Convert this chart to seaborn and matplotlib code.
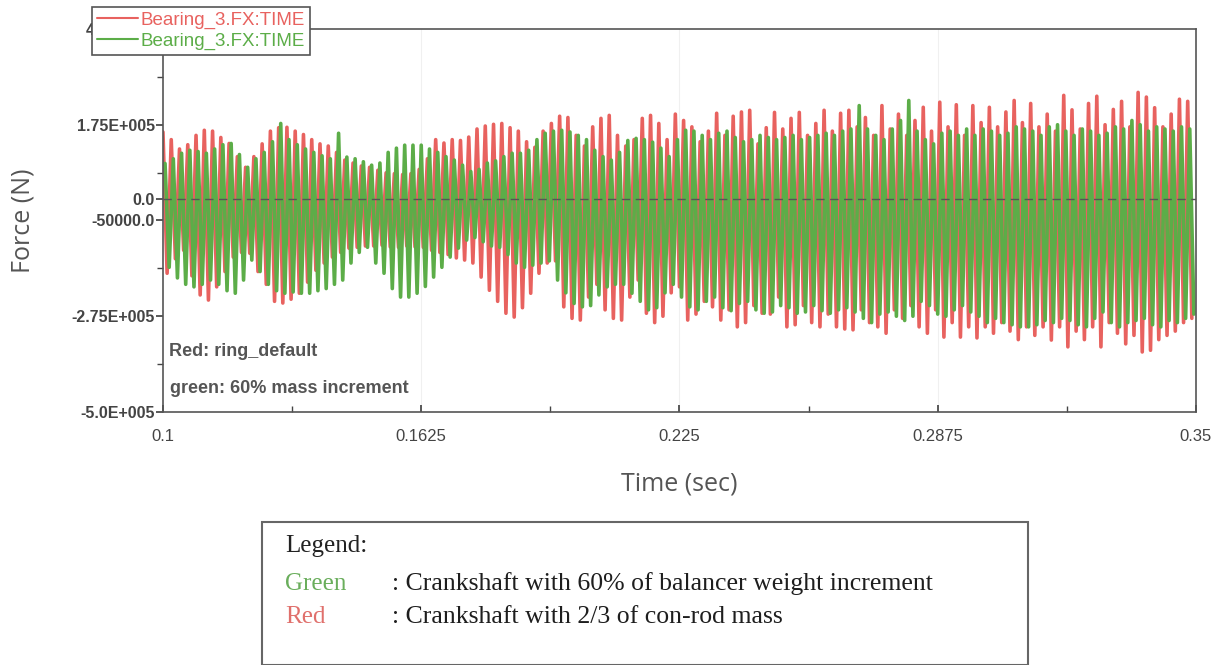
import numpy as np
import matplotlib
matplotlib.use("Agg")
import matplotlib.pyplot as plt
import seaborn as sns
from matplotlib.lines import Line2D
from matplotlib.patches import Rectangle

# ============================================================
# DATA  (force envelope per cycle, kN)
# ============================================================

T_START = 0.1
CYCLE = 0.002          # one peak + one trough per cycle
N_CYCLES = 125

red_upper = [
    158, 140, 118, 128, 150, 162, 160, 145, 131, 100, 75, 100, 130, 160, 168, 169, 160, 152, 140, 130, 125, 110, 92, 85, 78,
    75, 68, 62, 60, 58, 60, 70, 95, 140, 132, 140, 138, 146, 165, 172, 176, 178, 168, 160, 135, 122, 160, 178, 195, 192,
    150, 125, 170, 190, 197, 150, 125, 140, 190, 197, 178, 140, 200, 185, 170, 135, 160, 202, 150, 195, 205, 209, 130, 168, 204,
    165, 190, 204, 150, 178, 209, 160, 202, 209, 170, 192, 150, 220, 165, 200, 150, 185, 216, 160, 228, 170, 222, 150, 220, 180,
    216, 170, 205, 232, 180, 225, 170, 200, 160, 244, 210, 165, 225, 242, 175, 211, 230, 170, 251, 240, 215, 170, 200, 235, 230,
]
red_lower = [
    -174, -140, -120, -180, -225, -237, -206, -170, -136, -125, -127, -170, -200, -240, -244, -235, -221, -195, -167, -150, -136, -125, -115, -113, -110,
    -110, -108, -112, -113, -110, -112, -113, -120, -125, -130, -138, -143, -150, -183, -214, -240, -268, -277, -255, -221, -174, -150, -145, -253, -280,
    -284, -230, -200, -260, -280, -284, -230, -190, -268, -290, -275, -220, -206, -284, -270, -240, -253, -284, -260, -300, -290, -250, -268, -270, -230,
    -300, -295, -250, -290, -300, -270, -300, -305, -307, -260, -290, -300, -315, -260, -280, -250, -300, -315, -260, -324, -290, -324, -300, -326, -300,
    -315, -290, -310, -330, -300, -320, -300, -331, -300, -347, -310, -330, -300, -347, -290, -315, -340, -320, -359, -355, -330, -320, -310, -290, -280,
]
green_upper = [
    84, 95, 108, 115, 112, 108, 118, 128, 131, 105, 75, 95, 110, 135, 178, 140, 128, 118, 110, 102, 95, 155, 99, 95, 88,
    80, 85, 110, 120, 127, 127, 127, 118, 110, 100, 92, 80, 65, 70, 85, 90, 100, 108, 108, 115, 140, 155, 160, 162, 158,
    150, 140, 115, 100, 92, 110, 138, 143, 140, 134, 120, 100, 140, 162, 160, 150, 140, 155, 160, 145, 135, 140, 150, 145, 140,
    145, 150, 140, 145, 150, 155, 150, 160, 165, 220, 165, 150, 140, 165, 185, 232, 160, 140, 130, 155, 160, 150, 165, 150, 165,
    160, 150, 155, 170, 165, 160, 150, 170, 175, 160, 150, 165, 160, 150, 155, 170, 165, 185, 175, 160, 170, 165, 160, 170, 165,
]
green_lower = [
    -160, -185, -200, -206, -200, -190, -200, -215, -221, -190, -143, -170, -200, -215, -221, -218, -221, -221, -215, -210, -200, -190, -150, -125, -113,
    -150, -174, -210, -230, -230, -221, -205, -183, -160, -136, -115, -96, -90, -100, -110, -113, -130, -150, -160, -155, -150, -145, -190, -220, -245,
    -253, -250, -225, -206, -200, -200, -221, -240, -260, -255, -220, -200, -230, -253, -260, -240, -230, -255, -262, -245, -240, -260, -268, -265, -250,
    -255, -268, -265, -250, -262, -268, -260, -255, -265, -280, -290, -270, -265, -275, -285, -275, -240, -250, -270, -275, -260, -250, -265, -275, -290,
    -280, -290, -295, -300, -300, -295, -285, -290, -280, -285, -295, -300, -280, -265, -290, -300, -290, -285, -280, -295, -300, -285, -290, -280, -270,
]

series_labels = ["Bearing_3.FX:TIME", "Bearing_3.FX:TIME"]
x_ticks = [0.1, 0.1625, 0.225, 0.2875, 0.35]
x_tick_labels = ["0.1", "0.1625", "0.225", "0.2875", "0.35"]
y_ticks = [4.0e5, 1.75e5, 0.0, -5.0e4, -2.75e5, -5.0e5]
y_tick_labels = ["4.0E+005", "1.75E+005", "0.0", "-50000.0", "-2.75E+005", "-5.0E+005"]

RED = "#e8625f"
GREEN = "#5cad48"


def zigzag(upper, lower, shift=0.0):
    """Interleave peak/trough values into one time trace (N)."""
    t_cyc = T_START + CYCLE * np.arange(N_CYCLES) + shift
    t = np.empty(2 * N_CYCLES)
    f = np.empty(2 * N_CYCLES)
    t[0::2], t[1::2] = t_cyc, t_cyc + CYCLE / 2
    f[0::2], f[1::2] = np.array(upper) * 1e3, np.array(lower) * 1e3
    return t, f


# ============================================================
# PLOT
# ============================================================

sns.set_theme(style="white")
plt.rcParams["font.family"] = ["Liberation Sans", "DejaVu Sans"]

fig = plt.figure(figsize=(12.19, 6.65), dpi=100)
ax = fig.add_axes([0.1337, 0.3805, 0.8474, 0.5759])

t_r, f_r = zigzag(red_upper, red_lower)
t_g, f_g = zigzag(green_upper, green_lower, shift=CYCLE / 4)
sns.lineplot(x=t_r, y=f_r, ax=ax, color=RED, lw=2.6, sort=False, estimator=None)
sns.lineplot(x=t_g, y=f_g, ax=ax, color=GREEN, lw=2.6, sort=False, estimator=None)

ax.axhline(0, color="#555555", lw=1.0, ls=(0, (6, 4)), zorder=5)
for xv in x_ticks[1:-1]:
    ax.axvline(xv, color="#f0f0f0", lw=0.8, zorder=0)

ax.set_xlim(0.1, 0.35)
ax.set_ylim(-5.0e5, 4.0e5)
ax.set_xticks(x_ticks)
ax.set_xticklabels(x_tick_labels)
ax.set_xticks([0.13125, 0.19375, 0.25625, 0.31875], minor=True)
ax.set_yticks(y_ticks)
ax.set_yticklabels(y_tick_labels)
ax.set_yticks([2.875e5, 6.25e4, -1.625e5, -3.875e5], minor=True)
ax.tick_params(axis="y", which="both", direction="out", left=True, colors="#444444", labelsize=11.5, pad=1)
ax.tick_params(axis="y", which="major", length=5)
ax.tick_params(axis="y", which="minor", length=4)
ax.tick_params(axis="x", which="both", direction="in", bottom=True, colors="#444444", labelsize=12, pad=12)
ax.tick_params(axis="x", which="major", length=5)
ax.tick_params(axis="x", which="minor", length=4)
for lab in ax.get_yticklabels():
    lab.set_fontweight("bold")
for sp in ax.spines.values():
    sp.set_color("#555555")
    sp.set_linewidth(1.2)

ax.set_xlabel("Time (sec)", family=["Open Sans", "DejaVu Sans"], fontsize=18, color="#555555", labelpad=20)
ax.set_ylabel("Force (N)", family=["Open Sans", "DejaVu Sans"], fontsize=18, color="#555555", labelpad=26)

ax.text(0.1015, -3.59e5, "Red: ring_default", fontsize=13, fontweight="bold", color="#555555", va="center")
ax.text(0.1018, -4.46e5, "green: 60% mass increment", fontsize=13, fontweight="bold", color="#555555", va="center")

handles = [Line2D([], [], color=RED, lw=1.5), Line2D([], [], color=GREEN, lw=1.5)]
leg = fig.legend(handles, series_labels, loc="upper left", bbox_to_anchor=(0.0755, 0.9895),
                 borderaxespad=0, frameon=True, fancybox=False, edgecolor="#555555", framealpha=1,
                 fontsize=13.5, handlelength=2.2, handletextpad=0.15, labelspacing=0.2,
                 borderpad=0.25)
leg.get_frame().set_linewidth(1.2)
for txt, col in zip(leg.get_texts(), [RED, GREEN]):
    txt.set_color(col)

# explanatory box below the chart
fig.patches.append(Rectangle((262 / 1219, 0.0), (1028 - 262) / 1219, (665 - 522) / 665,
                             transform=fig.transFigure, fill=False, edgecolor="#666666", lw=1.5))
serif = ["Liberation Serif", "DejaVu Serif"]
fig.text(285 / 1219, 1 - 546 / 665, "Legend:", family=serif, fontsize=18, color="#222222", va="center")
fig.text(285 / 1219, 1 - 584 / 665, "Green", family=serif, fontsize=18, color="#6aae5c", va="center")
fig.text(392 / 1219, 1 - 584 / 665, ": Crankshaft with 60% of balancer weight increment",
         family=serif, fontsize=18.5, color="#1e1e1e", va="center")
fig.text(285 / 1219, 1 - 617 / 665, "Red", family=serif, fontsize=18, color="#e0706c", va="center")
fig.text(392 / 1219, 1 - 617 / 665, ": Crankshaft with 2/3 of con-rod mass",
         family=serif, fontsize=18.5, color="#1e1e1e", va="center")

fig.savefig("out.png", dpi=100)
